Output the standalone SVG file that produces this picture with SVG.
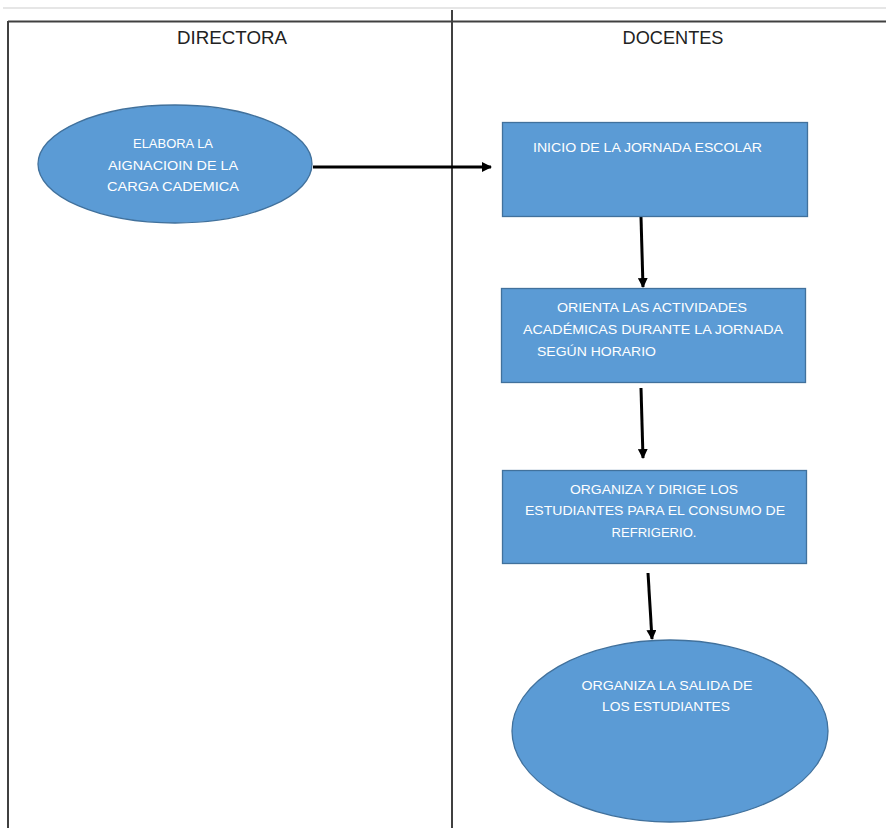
<svg xmlns="http://www.w3.org/2000/svg" width="886" height="828" viewBox="0 0 886 828">
<defs>
<style>
.lane{stroke:#404040;stroke-width:2;fill:none}
.hdr{font-family:"Liberation Sans",Arial,sans-serif;font-size:18.5px;fill:#222;text-anchor:middle}
.shape{fill:#5B9BD5;stroke:#41719C;stroke-width:1.3}
.lbl{font-family:"Liberation Sans",Arial,sans-serif;font-size:13.5px;fill:#fff;text-anchor:middle}
.lbs{font-family:"Liberation Sans",Arial,sans-serif;font-size:13.5px;fill:#fff}
.conn{stroke:#000;stroke-width:3;fill:none}
</style>
<marker id="ah" markerWidth="10" markerHeight="10" refX="9" refY="5" orient="auto" markerUnits="userSpaceOnUse" viewBox="0 0 10 10">
<path d="M0,0 L10,5 L0,10 Z" fill="#000"/>
</marker>
</defs>
<rect width="886" height="828" fill="#fff"/>
<g id="lanes">
<rect x="3" y="7" width="883" height="2" fill="#e6e6e6"/>
<line class="lane" x1="8" y1="21.5" x2="886" y2="21.5"/>
<line class="lane" x1="8" y1="21" x2="8" y2="828"/>
<line class="lane" x1="452" y1="10" x2="452" y2="828"/>
<text class="hdr" x="232" y="44" textLength="110" lengthAdjust="spacingAndGlyphs">DIRECTORA</text>
<text class="hdr" x="673" y="44" textLength="101" lengthAdjust="spacingAndGlyphs">DOCENTES</text>
</g>
<g id="connectors">
<line class="conn" x1="313" y1="167" x2="491" y2="167" marker-end="url(#ah)"/>
<line class="conn" x1="641" y1="217" x2="643" y2="287" marker-end="url(#ah)"/>
<line class="conn" x1="641" y1="388" x2="643" y2="458" marker-end="url(#ah)"/>
<line class="conn" x1="648" y1="573" x2="652" y2="639" marker-end="url(#ah)"/>
</g>
<g id="n1">
<ellipse class="shape" cx="175" cy="164" rx="137" ry="59"/>
<text class="lbl" x="173" y="148" textLength="80" lengthAdjust="spacingAndGlyphs">ELABORA LA</text>
<text class="lbl" x="173" y="170" textLength="130" lengthAdjust="spacingAndGlyphs">AIGNACIOIN DE LA</text>
<text class="lbl" x="173" y="191" textLength="132" lengthAdjust="spacingAndGlyphs">CARGA CADEMICA</text>
</g>
<g id="n2">
<rect class="shape" x="502.5" y="122.5" width="305" height="94"/>
<text class="lbs" x="533" y="152" textLength="229" lengthAdjust="spacingAndGlyphs">INICIO DE LA JORNADA ESCOLAR</text>
</g>
<g id="n3">
<rect class="shape" x="501.5" y="288.5" width="304" height="94"/>
<text class="lbl" x="652" y="312" textLength="190" lengthAdjust="spacingAndGlyphs">ORIENTA LAS ACTIVIDADES</text>
<text class="lbl" x="653" y="334" textLength="260" lengthAdjust="spacingAndGlyphs">ACADÉMICAS DURANTE LA JORNADA</text>
<text class="lbs" x="537" y="356" textLength="119" lengthAdjust="spacingAndGlyphs">SEGÚN HORARIO</text>
</g>
<g id="n4">
<rect class="shape" x="502.5" y="470.5" width="304" height="93"/>
<text class="lbl" x="654" y="494" textLength="168" lengthAdjust="spacingAndGlyphs">ORGANIZA Y DIRIGE LOS</text>
<text class="lbl" x="655" y="515" textLength="260" lengthAdjust="spacingAndGlyphs">ESTUDIANTES PARA EL CONSUMO DE</text>
<text class="lbl" x="654" y="537" textLength="85" lengthAdjust="spacingAndGlyphs">REFRIGERIO.</text>
</g>
<g id="n5">
<ellipse class="shape" cx="670" cy="731" rx="158" ry="91"/>
<text class="lbl" x="667" y="690" textLength="171" lengthAdjust="spacingAndGlyphs">ORGANIZA LA SALIDA DE</text>
<text class="lbl" x="666" y="711" textLength="128" lengthAdjust="spacingAndGlyphs">LOS ESTUDIANTES</text>
</g>
</svg>
